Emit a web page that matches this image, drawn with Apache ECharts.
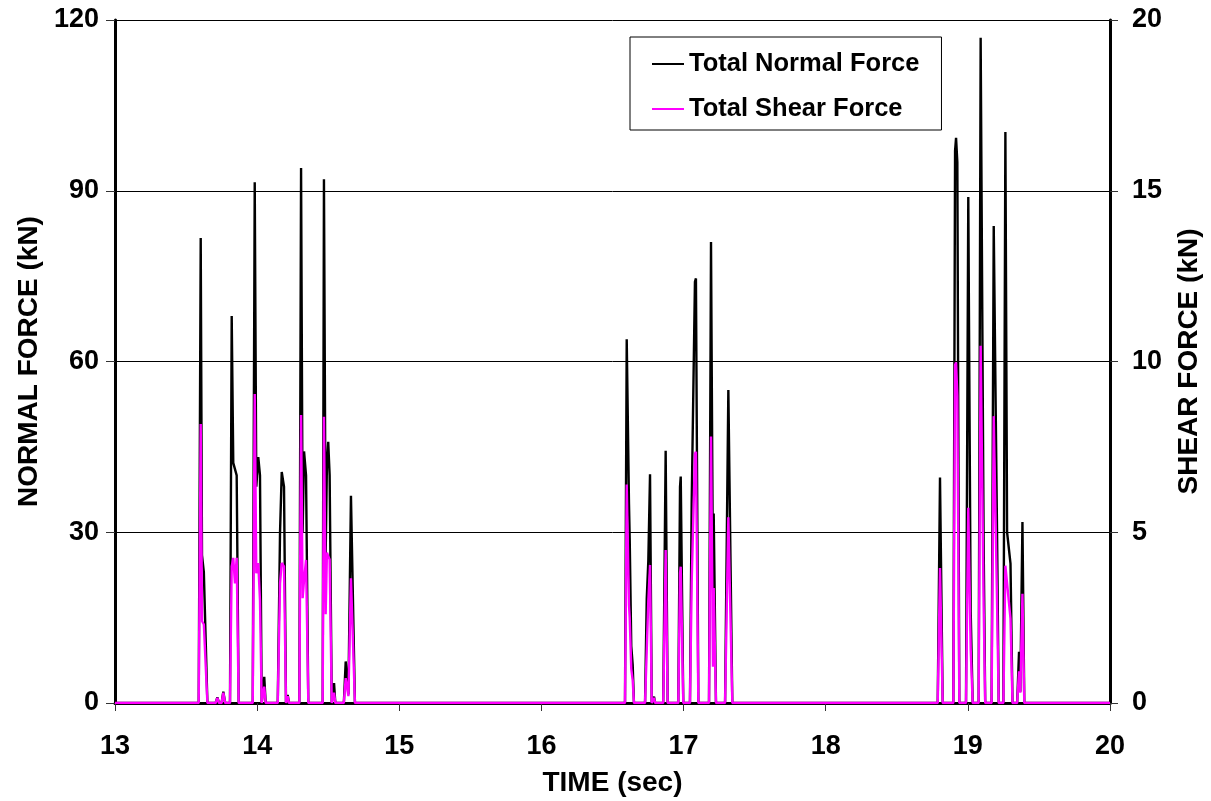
<!DOCTYPE html>
<html>
<head>
<meta charset="utf-8">
<script src="https://cdn.jsdelivr.net/npm/echarts@6/dist/echarts.min.js"></script>
<style>
  html, body { margin: 0; padding: 0; background: #fff; }
  #chart { width: 1211px; height: 801px; }
</style>
</head>
<body>
<div id="chart"></div>
<script>
// time (sec), normal force (kN), shear force (kN)
const timeSec = [
  13.000, 13.589, 13.603, 13.612, 13.625, 13.650, 13.708, 13.720, 13.732, 13.750,
  13.762, 13.775, 13.809, 13.821, 13.832, 13.844, 13.856, 13.870, 13.969, 13.983,
  13.994, 14.008, 14.020, 14.032, 14.042, 14.050, 14.060, 14.145, 14.161, 14.173,
  14.189, 14.203, 14.208, 14.215, 14.224, 14.297, 14.309, 14.320, 14.330, 14.344,
  14.360, 14.461, 14.470, 14.482, 14.491, 14.500, 14.510, 14.525, 14.533, 14.541,
  14.550, 14.610, 14.623, 14.642, 14.660, 14.688,
  16.588, 16.600, 16.616, 16.621, 16.632, 16.642, 16.651, 16.729, 16.741, 16.752,
  16.764, 16.776, 16.785, 16.792, 16.800, 16.857, 16.874, 16.888, 16.963, 16.975,
  16.980, 16.998, 17.045, 17.057, 17.080, 17.087, 17.104, 17.179, 17.193, 17.207,
  17.212, 17.228, 17.292, 17.315, 17.343,
  18.788, 18.804, 18.823, 18.898, 18.910, 18.917, 18.926, 18.940, 18.987, 19.003,
  19.020, 19.034, 19.076, 19.090, 19.111, 19.122, 19.167, 19.182, 19.205, 19.217,
  19.250, 19.264, 19.276, 19.300, 19.314, 19.347, 19.360, 19.369, 19.384, 19.397,
  20.000
]
const normalKN = [
  0, 0, 81.7, 26, 23, 0, 0, 1, 0, 0,
  2, 0, 0, 68, 42.2, 42, 40, 0, 0, 91.5,
  38, 43.2, 40, 0, 0, 4.6, 0, 0, 30, 40.6,
  38, 0, 0, 1.4, 0, 0, 94, 30, 44.2, 40,
  0, 0, 92, 26, 42, 45.9, 40, 0, 0, 3.5,
  0, 0, 7.3, 1.5, 36.4, 0,
  0, 63.9, 35, 28.9, 10, 6.7, 0, 0, 18.4, 25,
  40.2, 0, 0, 1.1, 0, 0, 44.3, 0, 0, 38,
  39.8, 0, 0, 35, 74, 74.6, 0, 0, 81, 20,
  33.3, 0, 0, 55, 0,
  0, 39.6, 0, 0, 97, 99.3, 95, 0, 0, 88.9,
  16, 0, 0, 116.9, 28.1, 0, 0, 83.8, 30.7, 0,
  0, 100.3, 30, 24.5, 0, 0, 9, 2, 31.8, 0,
  0
]
const shearKN = [
  0, 0, 8.17, 2.4, 2.3, 0, 0, 0.15, 0, 0,
  0.3, 0, 0, 4.0, 4.25, 3.5, 4.25, 0, 0, 9.05,
  3.8, 4.1, 3.0, 0, 0, 0.48, 0, 0, 3.5, 4.1,
  4.0, 0, 0, 0.2, 0, 0, 8.43, 3.07, 3.6, 4.19,
  0, 0, 8.38, 2.6, 4.4, 4.3, 4.2, 0, 0, 0.3,
  0, 0, 0.73, 0.2, 3.65, 0,
  0, 6.4, 2.87, 2.5, 1, 0.67, 0, 0, 1.55, 3,
  4.04, 0, 0, 0.15, 0, 0, 4.48, 0, 0, 3.8,
  3.99, 0, 0, 3.5, 7.3, 7.36, 0, 0, 7.8, 1.06,
  3.37, 0, 0, 5.44, 0,
  0, 3.95, 0, 0, 9.9, 9.97, 9, 0, 0, 5.72,
  1.57, 0, 0, 10.46, 2.86, 0, 0, 8.4, 3.05, 0,
  0, 4.02, 3.5, 2.47, 0, 0, 0.93, 0.3, 3.2, 0,
  0
]

const font = "'Liberation Sans', Arial, sans-serif"
const tickStyle = { fontFamily: font, fontWeight: 'bold', fontSize: 27, color: '#000' }
const nameStyle = { fontFamily: font, fontWeight: 'bold', fontSize: 28, color: '#000' }

let chartDom = document.getElementById('chart')
let myChart = echarts.init(chartDom, null, { renderer: 'canvas' })

const normalData = timeSec.map((t, i) => [t, normalKN[i]])
const shearData = timeSec.map((t, i) => [t, shearKN[i]])

let option = {
  animation: false,
  backgroundColor: '#fff',
  grid: { left: 115, right: 101, top: 20, bottom: 98, containLabel: false, outerBoundsMode: 'none' },
  legend: {
    orient: 'vertical',
    left: 630,
    top: 37,
    padding: [14, 22, 8, 22],
    itemGap: 19,
    itemWidth: 32,
    itemHeight: 2,
    icon: 'rect',
    borderColor: '#000',
    borderWidth: 1,
    backgroundColor: '#fff',
    textStyle: { fontFamily: font, fontWeight: 'bold', fontSize: 25.5, color: '#000' },
    data: ['Total Normal Force', 'Total Shear Force']
  },
  xAxis: [
    {
      type: 'value',
      min: 13,
      max: 20,
      interval: 1,
      name: 'TIME (sec)',
      nameLocation: 'middle',
      nameGap: 66,
      nameMoveOverlap: false,
      nameTextStyle: nameStyle,
      axisLine: { onZero: false, lineStyle: { color: '#333', width: 1 } },
      axisTick: { inside: false, length: 8, lineStyle: { color: '#333' } },
      axisLabel: Object.assign({ margin: 30 }, tickStyle),
      splitLine: { show: false }
    },
    {
      // top frame line
      type: 'value',
      position: 'top',
      min: 13,
      max: 20,
      axisLine: { show: true, lineStyle: { color: '#000', width: 3 } },
      axisTick: { show: false },
      axisLabel: { show: false },
      splitLine: { show: false }
    }
  ],
  yAxis: [
    {
      type: 'value',
      min: 0,
      max: 120,
      interval: 30,
      name: 'NORMAL FORCE (kN)',
      nameLocation: 'middle',
      nameRotate: 90,
      nameGap: 72,
      nameMoveOverlap: false,
      nameTextStyle: nameStyle,
      axisLine: { show: true, lineStyle: { color: '#000', width: 3 } },
      axisTick: { show: true, length: 9, lineStyle: { color: '#333' } },
      axisLabel: Object.assign({ margin: 16 }, tickStyle),
      splitLine: { show: true, lineStyle: { color: '#000', width: 1 } }
    },
    {
      type: 'value',
      min: 0,
      max: 20,
      interval: 5,
      position: 'right',
      name: 'SHEAR FORCE (kN)',
      nameLocation: 'middle',
      nameRotate: 90,
      nameGap: 65,
      nameMoveOverlap: false,
      nameTextStyle: nameStyle,
      axisLine: { show: true, lineStyle: { color: '#000', width: 3 } },
      axisTick: { show: true, length: 8, lineStyle: { color: '#333' } },
      axisLabel: Object.assign({ margin: 22 }, tickStyle),
      splitLine: { show: false }
    }
  ],
  series: [
    {
      name: 'Total Normal Force',
      type: 'line',
      xAxisIndex: 0,
      yAxisIndex: 0,
      data: normalData,
      showSymbol: false,
      symbol: 'none',
      lineStyle: { color: '#000', width: 2.4 },
      itemStyle: { color: '#000' }
    },
    {
      name: 'Total Shear Force',
      type: 'line',
      xAxisIndex: 0,
      yAxisIndex: 1,
      data: shearData,
      showSymbol: false,
      symbol: 'none',
      lineStyle: { color: '#ff00ff', width: 2.4 },
      itemStyle: { color: '#ff00ff' }
    }
  ]
}

option && myChart.setOption(option)
</script>
</body>
</html>
